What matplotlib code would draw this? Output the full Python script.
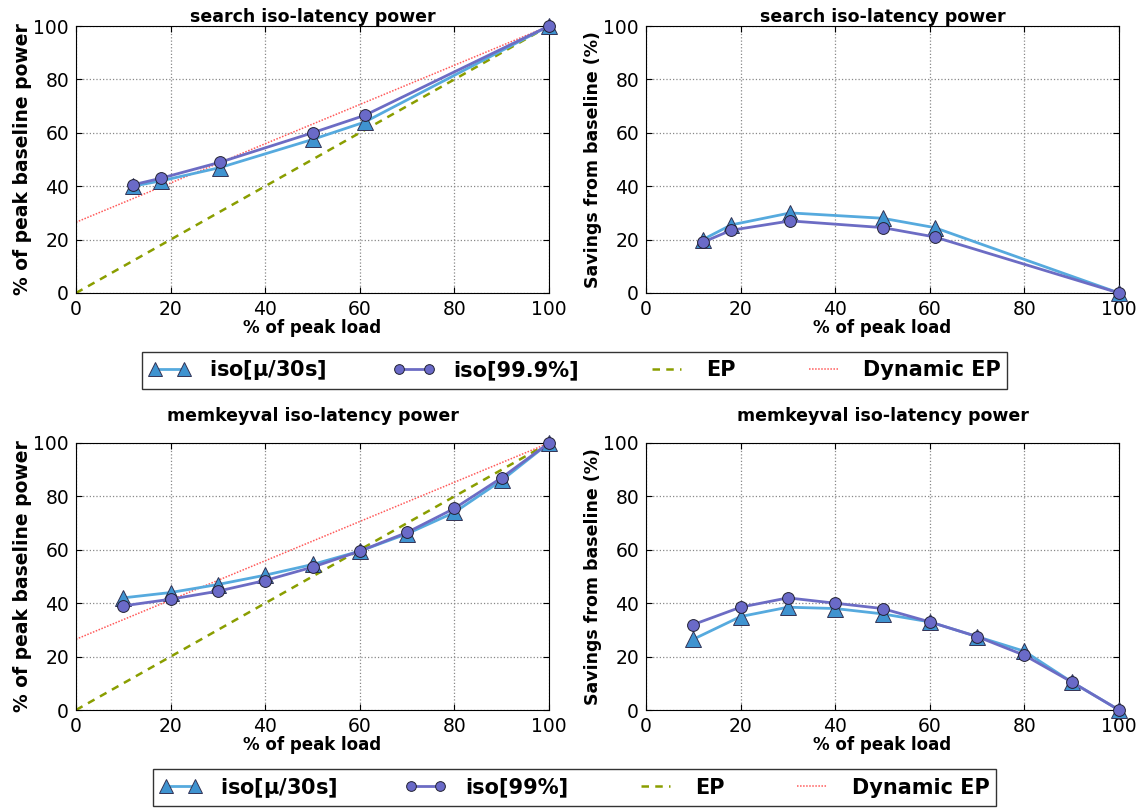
import matplotlib.pyplot as plt
from matplotlib.lines import Line2D

# search workload
search_load = [12, 18, 30.5, 50, 61, 100]
search_pow_mu = [40, 42, 47, 57.5, 64, 100]
search_pow_999 = [40.5, 43, 49, 60, 66.5, 100]
search_sav_mu = [20, 25.5, 30, 28, 24.5, 0]
search_sav_999 = [19, 23.5, 27, 24.5, 21, 0]

# memkeyval workload
mkv_load = [10, 20, 30, 40, 50, 60, 70, 80, 90, 100]
mkv_pow_mu = [42, 44, 47, 50.5, 54.5, 59.5, 66, 74, 86, 100]
mkv_pow_99 = [39, 41.5, 44.5, 48.5, 53.5, 59.5, 66.5, 75.5, 87, 100]
mkv_sav_mu = [26.5, 35, 38.5, 38, 36, 33, 27.5, 22, 10.5, 0]
mkv_sav_99 = [32, 38.5, 42, 40, 38, 33, 27.5, 20.5, 10.5, 0]

ep_x = [0, 100]
ep_y = [0, 100]
dyn_ep_y = [26.5, 100]

C_MU = "#56aade"
C_MU_FILL = "#3f93d0"
C_99 = "#6c6cc4"
C_99_FILL = "#6a6ac8"
C_EP = "#8a9e00"
C_DYN = "#ff5a5a"

plt.rcParams["font.family"] = "DejaVu Sans"
fig = plt.figure(figsize=(11.48, 8.08), dpi=100)

W, H = 1148, 808
def ax_at(x0, y0, x1, y1):
    return fig.add_axes([x0 / W, 1 - y1 / H, (x1 - x0) / W, (y1 - y0) / H])

ax_sl = ax_at(76, 26, 549, 293)
ax_sr = ax_at(646, 26, 1119, 293)
ax_ml = ax_at(76, 443, 549, 710)
ax_mr = ax_at(646, 443, 1119, 710)


def style(ax, ylabel, ysize, title, tpad):
    ax.set_xlim(0, 100)
    ax.set_ylim(0, 100)
    ax.set_xticks(range(0, 101, 20))
    ax.set_yticks(range(0, 101, 20))
    ax.tick_params(labelsize=13.5, direction="in", length=4, top=True, right=True, pad=5)
    ax.grid(True, linestyle=":", color="#888888", linewidth=0.9)
    ax.set_xlabel("% of peak load", fontsize=12, fontweight="bold", labelpad=0)
    ax.set_ylabel(ylabel, fontsize=ysize, fontweight="bold", labelpad=1)
    ax.set_title(title, fontsize=12.5, fontweight="bold", pad=tpad)


def series(ax, x, y_mu, y_99):
    ax.plot(x, y_mu, color=C_MU, lw=2, marker="^", ms=11, mfc=C_MU_FILL,
            mec="#333355", mew=0.7, zorder=3, clip_on=False)
    ax.plot(x, y_99, color=C_99, lw=2, marker="o", ms=8.5, mfc=C_99_FILL,
            mec="#222233", mew=0.7, zorder=4, clip_on=False)


for ax in (ax_sl, ax_ml):
    ax.plot(ep_x, ep_y, color=C_EP, lw=1.8, ls=(0, (3, 2.5)), zorder=2)
    ax.plot(ep_x, dyn_ep_y, color=C_DYN, lw=1.1, ls=(0, (1, 1)), zorder=2)

series(ax_sl, search_load, search_pow_mu, search_pow_999)
series(ax_sr, search_load, search_sav_mu, search_sav_999)
series(ax_ml, mkv_load, mkv_pow_mu, mkv_pow_99)
series(ax_mr, mkv_load, mkv_sav_mu, mkv_sav_99)

style(ax_sl, "% of peak baseline power", 13.5, "search iso-latency power", 3)
style(ax_sr, "Savings from baseline (%)", 12.5, "search iso-latency power", 3)
style(ax_ml, "% of peak baseline power", 13.5, "memkeyval iso-latency power", 16)
style(ax_mr, "Savings from baseline (%)", 12.5, "memkeyval iso-latency power", 16)


def legend(label99, y0, y1):
    handles = [
        Line2D([], [], color=C_MU, lw=2, marker="^", ms=10, mfc=C_MU_FILL, mec="#333355", mew=0.7),
        Line2D([], [], color=C_99, lw=2, marker="o", ms=7, mfc=C_99_FILL, mec="#222233", mew=0.7),
        Line2D([], [], color=C_EP, lw=1.8, ls=(0, (3, 2.5))),
        Line2D([], [], color=C_DYN, lw=1.1, ls=(0, (1, 1))),
    ]
    labels = [r"iso[$\mathbf{\mu}$/30s]", label99, "EP", "Dynamic EP"]
    fig.legend(handles, labels, ncol=4, loc="center", numpoints=2,
               bbox_to_anchor=((148 + 1001) / 2 / W, 1 - (y0 + y1) / 2 / H),
               prop={"size": 15, "weight": "bold"}, frameon=True, fancybox=False,
               edgecolor="black", handlelength=2.0, columnspacing=3.2,
               borderpad=0.3, handletextpad=0.9, markerfirst=True)


legend("iso[99.9%]", 351, 390)
legend("iso[99%]", 768, 807)

fig.savefig("out.png", dpi=100)
